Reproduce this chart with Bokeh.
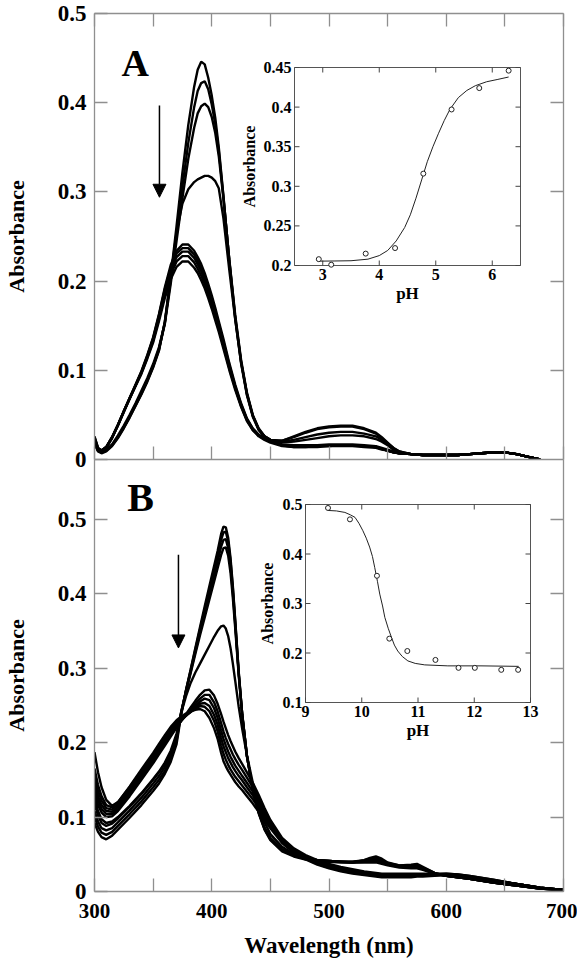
import math
from bokeh.plotting import figure
from bokeh.models import Range1d, LinearAxis, FixedTicker, Arrow, NormalHead, Label, Grid
from bokeh.layouts import column
from bokeh.core.properties import value
from bokeh.embed import file_html
from bokeh.resources import INLINE

# ---------------- data: panel A spectra ----------------
TW = [300, 303, 306, 310, 315, 320, 325, 330, 335, 340,
      345, 350, 355, 360, 365, 370, 375, 380, 385, 388,
      391, 394, 397, 400, 403, 406, 410, 415, 420, 425,
      430, 435, 440, 445, 450, 460, 470, 480, 490, 500,
      510, 520, 530, 540, 545, 550, 555, 560, 570, 580,
      590, 600, 610, 620, 630, 640, 650, 660, 670, 680]

TA_H1 = [.018, .009, .007, .009, .015, .024, .035, .047, .060, .073,
         .087, .103, .122, .155, .205, .262, .322, .375, .418, .437,
         .446, .443, .428, .408, .383, .350, .295, .222, .158, .108,
         .072, .048, .033, .025, .021, .021, .026, .031, .035, .037,
         .038, .038, .035, .030, .025, .019, .013, .009, .006, .005,
         .005, .005, .005, .006, .007, .008, .008, .006, .003, .000]
TA_H2 = [.019, .010, .008, .010, .016, .025, .036, .048, .061, .074,
         .088, .104, .123, .154, .201, .253, .306, .355, .395, .413,
         .422, .424, .415, .398, .376, .346, .294, .223, .160, .110,
         .073, .049, .034, .026, .022, .021, .025, .030, .034, .036,
         .037, .037, .034, .029, .024, .018, .013, .009, .006, .005,
         .005, .005, .005, .006, .007, .008, .008, .006, .003, .000]
TA_H3 = [.019, .010, .008, .010, .016, .025, .036, .048, .061, .074,
         .089, .105, .124, .152, .197, .245, .293, .337, .372, .388,
         .396, .399, .395, .384, .366, .340, .292, .224, .162, .112,
         .075, .050, .035, .026, .022, .020, .022, .025, .028, .030,
         .031, .031, .029, .026, .022, .017, .012, .008, .006, .005,
         .005, .005, .005, .006, .007, .008, .008, .006, .003, .000]
TA_H4 = [.020, .010, .008, .011, .017, .027, .038, .050, .063, .077,
         .091, .107, .126, .153, .205, .255, .287, .303, .311, .314,
         .316, .318, .318, .316, .312, .304, .270, .212, .157, .109,
         .074, .049, .034, .026, .022, .019, .020, .022, .024, .026,
         .027, .027, .026, .023, .020, .016, .011, .008, .006, .005,
         .005, .005, .005, .006, .007, .008, .008, .006, .003, .000]
TA_L1 = [.022, .011, .009, .013, .024, .038, .054, .069, .084, .099,
         .117, .137, .163, .193, .218, .234, .241, .241, .234, .227,
         .219, .209, .197, .184, .170, .155, .135, .108, .084, .063,
         .046, .035, .028, .024, .021, .017, .016, .016, .016, .017,
         .017, .017, .016, .015, .013, .011, .009, .007, .006, .005,
         .005, .005, .005, .006, .007, .008, .008, .006, .003, .000]
TA_L2 = [.023, .012, .009, .013, .024, .038, .053, .068, .083, .098,
         .116, .136, .162, .191, .215, .231, .237, .237, .230, .223,
         .215, .205, .194, .181, .167, .152, .132, .106, .082, .062,
         .045, .034, .027, .023, .020, .016, .015, .015, .016, .016,
         .016, .016, .015, .014, .012, .010, .008, .007, .006, .005,
         .005, .005, .005, .006, .007, .008, .008, .006, .003, .000]
TA_L3 = [.024, .012, .010, .014, .025, .039, .054, .069, .083, .098,
         .115, .135, .160, .188, .211, .227, .233, .233, .226, .219,
         .211, .201, .190, .177, .163, .149, .129, .104, .081, .061,
         .045, .034, .027, .023, .020, .016, .015, .015, .015, .016,
         .016, .016, .015, .014, .012, .010, .008, .007, .006, .005,
         .005, .005, .005, .006, .007, .008, .008, .006, .003, .000]
TA_L4 = [.025, .013, .010, .014, .025, .039, .054, .069, .083, .097,
         .114, .133, .158, .185, .207, .222, .228, .228, .221, .214,
         .206, .197, .186, .174, .160, .146, .127, .102, .080, .060,
         .044, .033, .027, .023, .020, .016, .014, .014, .015, .015,
         .016, .016, .015, .014, .012, .010, .008, .007, .006, .005,
         .005, .005, .005, .006, .007, .008, .008, .006, .003, .000]
TA_L5 = [.026, .013, .010, .014, .025, .039, .054, .068, .082, .096,
         .113, .131, .155, .181, .202, .216, .222, .222, .215, .209,
         .201, .192, .181, .169, .156, .143, .124, .100, .078, .059,
         .043, .033, .026, .022, .019, .015, .014, .014, .014, .015,
         .015, .015, .014, .013, .011, .010, .008, .007, .006, .005,
         .005, .005, .005, .006, .007, .008, .008, .006, .003, .000]

# ---------------- data: panel B spectra ----------------
BW = [300, 303, 306, 310, 315, 320, 330, 340, 350, 355,
      360, 365, 370, 374, 378, 382, 386, 390, 394, 398,
      402, 405, 408, 410, 412, 414, 416, 418, 420, 423,
      426, 430, 435, 440, 445, 450, 460, 470, 480, 490,
      500, 510, 520, 530, 535, 540, 545, 550, 560, 570,
      575, 580, 590, 600, 610, 620, 640, 660, 680, 700]

BH1 = [.092, .080, .073, .070, .075, .083, .099, .116, .135, .145,
       .158, .174, .198, .238, .270, .298, .327, .355, .383, .410,
       .437, .457, .480, .490, .489, .475, .448, .410, .365, .295,
       .238, .182, .136, .105, .083, .069, .054, .047, .043, .041,
       .040, .039, .039, .042, .045, .047, .044, .039, .035, .036,
       .037, .033, .025, .021, .019, .017, .012, .008, .004, .002]
BH2 = [.100, .087, .079, .076, .080, .088, .104, .121, .140, .150,
       .162, .178, .202, .240, .270, .297, .325, .352, .379, .405,
       .431, .451, .472, .482, .483, .470, .444, .407, .363, .294,
       .238, .182, .137, .106, .084, .070, .055, .048, .044, .042,
       .041, .040, .040, .042, .044, .045, .042, .038, .035, .035,
       .036, .032, .025, .021, .019, .017, .012, .008, .004, .002]
BH3 = [.108, .094, .085, .082, .085, .093, .109, .126, .145, .155,
       .167, .182, .205, .241, .269, .295, .322, .348, .374, .399,
       .424, .443, .463, .472, .473, .461, .437, .401, .359, .292,
       .237, .182, .137, .107, .085, .071, .056, .048, .044, .042,
       .041, .040, .040, .041, .043, .043, .040, .037, .034, .034,
       .034, .031, .024, .021, .019, .017, .012, .008, .004, .002]
BH4 = [.118, .102, .092, .088, .091, .098, .114, .131, .150, .160,
       .171, .186, .208, .242, .268, .293, .319, .344, .368, .392,
       .416, .434, .452, .461, .462, .451, .428, .394, .354, .290,
       .236, .182, .138, .108, .086, .072, .057, .049, .045, .042,
       .041, .040, .039, .040, .041, .041, .039, .036, .033, .033,
       .033, .030, .024, .021, .019, .017, .012, .008, .004, .002]
BH5 = [.125, .108, .097, .092, .094, .100, .115, .132, .151, .161,
       .173, .189, .212, .240, .262, .280, .294, .306, .318, .330,
       .342, .350, .356, .357, .353, .343, .327, .306, .283, .248,
       .218, .183, .146, .116, .093, .077, .060, .050, .045, .042,
       .041, .040, .039, .039, .039, .039, .037, .035, .032, .031,
       .031, .029, .024, .021, .019, .017, .012, .008, .004, .002]
BL1 = [.130, .116, .106, .100, .101, .108, .128, .150, .172, .184,
       .196, .208, .220, .229, .238, .247, .256, .264, .270, .271,
       .263, .252, .238, .228, .219, .210, .202, .195, .188, .179,
       .171, .160, .146, .130, .112, .096, .072, .058, .049, .042,
       .037, .033, .030, .027, .026, .025, .024, .024, .024, .024,
       .024, .024, .024, .024, .023, .021, .016, .010, .005, .002]
BL2 = [.138, .122, .111, .104, .104, .111, .131, .153, .175, .187,
       .199, .210, .221, .229, .236, .244, .252, .259, .264, .264,
       .254, .242, .226, .215, .206, .198, .191, .184, .178, .170,
       .163, .153, .140, .125, .108, .093, .070, .056, .047, .040,
       .035, .031, .028, .026, .025, .024, .023, .023, .023, .023,
       .023, .023, .023, .024, .023, .021, .016, .010, .005, .002]
BL3 = [.146, .128, .116, .108, .107, .114, .134, .156, .178, .190,
       .202, .213, .223, .230, .236, .242, .249, .255, .259, .257,
       .246, .233, .216, .205, .196, .188, .181, .175, .169, .162,
       .155, .146, .134, .120, .105, .091, .068, .055, .046, .039,
       .034, .030, .027, .025, .024, .023, .022, .022, .022, .022,
       .022, .022, .023, .023, .022, .020, .015, .010, .005, .002]
BL4 = [.155, .135, .122, .112, .110, .117, .137, .159, .181, .193,
       .205, .216, .225, .231, .236, .241, .247, .252, .253, .249,
       .237, .224, .206, .195, .187, .179, .173, .167, .162, .155,
       .149, .140, .129, .116, .102, .089, .067, .054, .045, .038,
       .033, .029, .026, .024, .023, .022, .021, .021, .021, .021,
       .021, .022, .022, .023, .022, .020, .015, .010, .005, .002]
BL5 = [.165, .143, .128, .116, .113, .120, .140, .162, .184, .196,
       .208, .219, .228, .233, .237, .241, .245, .249, .248, .242,
       .229, .215, .196, .185, .177, .170, .164, .159, .154, .148,
       .142, .134, .124, .112, .099, .087, .066, .053, .044, .037,
       .032, .028, .025, .023, .022, .021, .020, .020, .020, .020,
       .021, .021, .022, .022, .022, .020, .015, .010, .005, .002]
BL6 = [.187, .160, .140, .123, .115, .120, .141, .164, .186, .198,
       .210, .221, .230, .235, .239, .242, .244, .245, .242, .233,
       .219, .205, .186, .175, .168, .162, .157, .152, .147, .141,
       .136, .128, .118, .107, .096, .085, .065, .052, .043, .036,
       .031, .027, .024, .022, .021, .020, .019, .019, .019, .019,
       .020, .020, .021, .022, .021, .019, .015, .010, .005, .002]

# ---------------- data: insets ----------------
PH_A = [2.93, 3.15, 3.76, 4.28, 4.78, 5.28, 5.77, 6.29]
ABS_A = [0.208, 0.201, 0.215, 0.222, 0.316, 0.397, 0.424, 0.446]
FIT_A_PH = [2.93, 3.2, 3.5, 3.8, 4.0, 4.15, 4.3, 4.45, 4.55, 4.65, 4.75,
            4.85, 4.95, 5.05, 5.15, 5.25, 5.4, 5.55, 5.7, 5.9, 6.1, 6.29]
FIT_A_ABS = [0.2055, 0.2057, 0.206, 0.208, 0.2125, 0.219, 0.231, 0.248, 0.264,
             0.285, 0.308, 0.331, 0.350, 0.367, 0.383, 0.397, 0.412, 0.421,
             0.427, 0.432, 0.435, 0.438]
PH_B = [9.40, 9.79, 10.27, 10.49, 10.81, 11.31, 11.72, 12.01, 12.48, 12.78]
ABS_B = [0.493, 0.470, 0.356, 0.229, 0.204, 0.186, 0.170, 0.170, 0.166, 0.166]
FIT_B_PH = [9.40, 9.55, 9.70, 9.80, 9.88, 9.95, 10.02, 10.08, 10.14, 10.19,
            10.23, 10.28, 10.32, 10.37, 10.41, 10.47, 10.53, 10.58, 10.64,
            10.72, 10.82, 10.95, 11.12, 11.53, 12.12, 12.79]
FIT_B_ABS = [0.488, 0.487, 0.484, 0.479, 0.474, 0.462, 0.447, 0.432, 0.414,
             0.395, 0.373, 0.344, 0.319, 0.295, 0.272, 0.250, 0.231, 0.216,
             0.204, 0.193, 0.184, 0.179, 0.176, 0.174, 0.174, 0.173]

# ---------------- ticks ----------------
X_TICKS = [300, 400, 500, 600, 700]
X_LABELS = ["300", "400", "500", "600", "700"]
X_MINOR = [350, 450, 550, 650]
Y_TICKS = [0, 0.1, 0.2, 0.3, 0.4, 0.5]
Y_LABELS = ["0", "0.1", "0.2", "0.3", "0.4", "0.5"]
A_XT = [3, 4, 5, 6]
A_XL = ["3", "4", "5", "6"]
A_YT = [0.2, 0.25, 0.3, 0.35, 0.4, 0.45]
A_YL = ["0.2", "0.25", "0.3", "0.35", "0.4", "0.45"]
B_XT = [9, 10, 11, 12, 13]
B_XL = ["9", "10", "11", "12", "13"]
B_YT = [0.1, 0.2, 0.3, 0.4, 0.5]
B_YL = ["0.1", "0.2", "0.3", "0.4", "0.5"]

FONT = "Liberation Serif"
AX_COL = "#8f8f8f"

# layout (pixels, page coordinates)
FX0, FX1 = 93, 562          # frame left / right
A_TOP, MID, B_BOT = 13, 459, 891
OVER = 12                   # overlap of the two canvases


def make_axis(ticks, labels=None, minor=None, size="23px"):
    ax = LinearAxis(ticker=FixedTicker(ticks=ticks, minor_ticks=minor or []))
    ax.axis_line_color = AX_COL
    ax.axis_line_width = 1.3
    ax.major_tick_line_color = AX_COL
    ax.minor_tick_line_color = AX_COL
    ax.major_tick_line_width = 1.3
    ax.minor_tick_line_width = 1.3
    ax.major_tick_in = 13
    ax.major_tick_out = 0
    ax.minor_tick_in = 13
    ax.minor_tick_out = 0
    if labels is None:
        ax.major_label_overrides = {t: "" for t in ticks}
        ax.major_label_text_font_size = "0px"
        ax.major_label_standoff = 0
    else:
        ax.major_label_overrides = dict(zip(ticks, labels))
        ax.major_label_text_font = FONT
        ax.major_label_text_font_style = "bold"
        ax.major_label_text_font_size = size
        ax.major_label_text_color = "black"
    ax.axis_label_text_font = FONT
    ax.axis_label_text_font_style = "bold"
    ax.axis_label_text_font_size = "22px"
    ax.axis_label_text_color = "black"
    return ax


def base_fig(fh, ymax, top, bottom):
    p = figure(frame_width=FX1 - FX0, frame_height=fh,
               x_range=Range1d(300, 700), y_range=Range1d(0, ymax),
               output_backend="svg", toolbar_location=None,
               x_axis_location=None, y_axis_location=None,
               min_border_left=FX0, min_border_right=14,
               min_border_top=top, min_border_bottom=bottom)
    p.center = [r for r in p.center if not isinstance(r, Grid)]
    p.outline_line_color = None
    return p


def inset(p, name, frame, box, xlim, ylim, xt, xl, yt, yl,
          fit_x, fit_y, px, py, ylab_off):
    fx0, fx1, fyt, fyb = frame
    bx0, bx1, byt, byb = box
    sx = (xlim[1] - xlim[0]) / (bx1 - bx0)
    sy = (ylim[1] - ylim[0]) / (byb - byt)
    p.extra_x_ranges[name + "x"] = Range1d(xlim[0] - (bx0 - fx0) * sx,
                                           xlim[1] + (fx1 - bx1) * sx)
    p.extra_y_ranges[name + "y"] = Range1d(ylim[0] - (fyb - byb) * sy,
                                           ylim[1] + (byt - fyt) * sy)
    kw = dict(x_range_name=name + "x", y_range_name=name + "y")
    p.quad(left=[xlim[0]], right=[xlim[1]], bottom=[ylim[0]], top=[ylim[1]],
           fill_color="white", line_color="#555555", line_width=1, **kw)
    tick = dict(length=5, length_units="screen", line_color="#444444",
                line_width=1, **kw)
    p.ray(x=xt, y=[ylim[0]] * len(xt), angle=math.pi / 2, **tick)
    p.ray(x=xt, y=[ylim[1]] * len(xt), angle=-math.pi / 2, **tick)
    p.ray(x=[xlim[0]] * len(yt), y=yt, angle=0, **tick)
    p.ray(x=[xlim[1]] * len(yt), y=yt, angle=math.pi, **tick)
    txt = dict(text_font=value(FONT), text_font_style="bold",
               text_color="black", **kw)
    p.text(x=xt, y=[ylim[0]] * len(xt), text=xl, text_align="center",
           text_baseline="top", y_offset=3, text_font_size="16px", **txt)
    p.text(x=[xlim[0]] * len(yt), y=yt, text=yl, text_align="right",
           text_baseline="middle", x_offset=-3, text_font_size="16px", **txt)
    p.text(x=[(xlim[0] + xlim[1]) / 2], y=[ylim[0]], text=["pH"],
           text_align="center", text_baseline="top", y_offset=18,
           text_font_size="17px", **txt)
    p.text(x=[xlim[0]], y=[(ylim[0] + ylim[1]) / 2], text=["Absorbance"],
           text_align="center", text_baseline="middle", x_offset=ylab_off,
           angle=math.pi / 2, text_font_size="16px", **txt)
    p.line(fit_x, fit_y, line_color="#222222", line_width=1, **kw)
    p.scatter(px, py, marker="circle", size=5, fill_color="white",
              line_color="#222222", line_width=1, **kw)


# ---------------- panel A ----------------
p1 = base_fig(MID - A_TOP, 0.5, A_TOP, OVER)
left = make_axis(Y_TICKS, Y_LABELS)
left.axis_label = "Absorbance"
left.major_label_standoff = 8
left.axis_label_standoff = 26
p1.add_layout(left, "left")
p1.add_layout(make_axis([0.1, 0.2, 0.3, 0.4]), "right")
p1.add_layout(make_axis(X_TICKS, None, X_MINOR), "above")
p1.add_layout(make_axis(X_TICKS, None, X_MINOR), "below")

for ys in [TA_L5, TA_L4, TA_L3, TA_L2, TA_L1, TA_H4, TA_H3, TA_H2, TA_H1]:
    p1.line(TW, ys, line_color="black", line_width=2.4)

p1.add_layout(Arrow(end=NormalHead(size=13, fill_color="black",
                                   line_color="black", line_width=1),
                    x_start=355.4, y_start=0.397, x_end=355.4, y_end=0.294,
                    line_color="black", line_width=1.5))
p1.add_layout(Label(x=323, y=0.445, text="A", text_font=FONT,
                    text_font_style="bold", text_font_size="38px",
                    text_color="black", text_baseline="alphabetic"))

inset(p1, "a", (FX0, FX1, A_TOP, MID), (293, 519, 67, 265), (2.5, 6.5),
      (0.2, 0.45), A_XT, A_XL, A_YT, A_YL, FIT_A_PH, FIT_A_ABS,
      PH_A, ABS_A, -45)

# ---------------- panel B ----------------
p2 = base_fig(B_BOT - MID, 0.58, 0, 74)
p2.background_fill_color = None
p2.border_fill_color = None
p2.margin = (-OVER, 0, 0, 0)
left2 = make_axis(Y_TICKS, Y_LABELS)
left2.axis_label = "Absorbance"
left2.major_label_standoff = 8
left2.axis_label_standoff = 26
p2.add_layout(left2, "left")
p2.add_layout(make_axis([0.1, 0.2, 0.3, 0.4, 0.5]), "right")
bottom = make_axis(X_TICKS, X_LABELS, X_MINOR, size="21px")
bottom.axis_label = "Wavelength (nm)"
bottom.axis_label_text_font_size = "23px"
bottom.major_label_standoff = 12
bottom.axis_label_standoff = 12
p2.add_layout(bottom, "below")

for ys in [BL6, BL5, BL4, BL3, BL2, BL1, BH5, BH4, BH3, BH2, BH1]:
    p2.line(BW, ys, line_color="black", line_width=2.4)

p2.add_layout(Arrow(end=NormalHead(size=13, fill_color="black",
                                   line_color="black", line_width=1),
                    x_start=371.6, y_start=0.452, x_end=371.6, y_end=0.327,
                    line_color="black", line_width=1.5))
p2.add_layout(Label(x=328, y=0.529, text="B", text_font=FONT,
                    text_font_style="bold", text_font_size="40px",
                    text_color="black", text_baseline="alphabetic"))

inset(p2, "b", (FX0, FX1, MID, B_BOT), (304, 529, 504, 702), (9, 13),
      (0.1, 0.5), B_XT, B_XL, B_YT, B_YL, FIT_B_PH, FIT_B_ABS,
      PH_B, ABS_B, -38)

layout = column(p1, p2)
open("out.html", "w").write(file_html(layout, INLINE))
